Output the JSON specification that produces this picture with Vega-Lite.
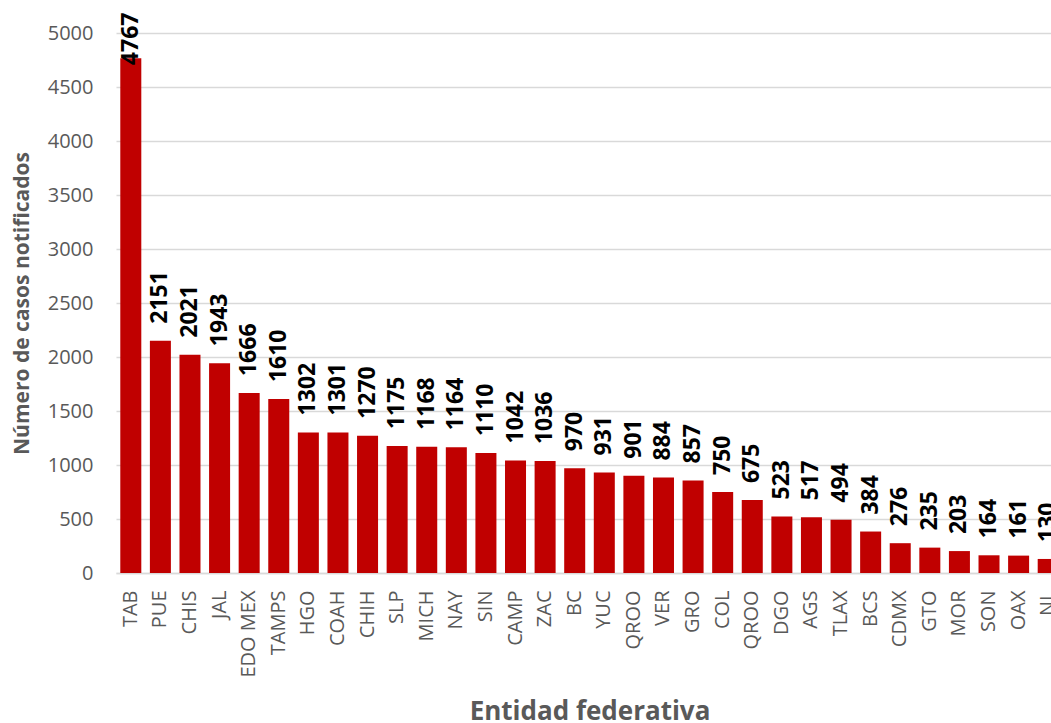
{
  "$schema": "https://vega.github.io/schema/vega-lite/v6.json",
  "width": 935,
  "height": 540,
  "autosize": {"type": "none"},
  "padding": {"left": 116, "top": 33, "right": 0, "bottom": 150},
  "background": "white",
  "config": {
    "view": {"stroke": null},
    "font": "Open Sans"
  },
  "data": {
    "values": [
      {"entidad": "TAB", "casos": 4767},
      {"entidad": "PUE", "casos": 2151},
      {"entidad": "CHIS", "casos": 2021},
      {"entidad": "JAL", "casos": 1943},
      {"entidad": "EDO MEX", "casos": 1666},
      {"entidad": "TAMPS", "casos": 1610},
      {"entidad": "HGO", "casos": 1302},
      {"entidad": "COAH", "casos": 1301},
      {"entidad": "CHIH", "casos": 1270},
      {"entidad": "SLP", "casos": 1175},
      {"entidad": "MICH", "casos": 1168},
      {"entidad": "NAY", "casos": 1164},
      {"entidad": "SIN", "casos": 1110},
      {"entidad": "CAMP", "casos": 1042},
      {"entidad": "ZAC", "casos": 1036},
      {"entidad": "BC", "casos": 970},
      {"entidad": "YUC", "casos": 931},
      {"entidad": "QROO", "casos": 901},
      {"entidad": "VER", "casos": 884},
      {"entidad": "GRO", "casos": 857},
      {"entidad": "COL", "casos": 750},
      {"entidad": "QROO\u200b", "casos": 675},
      {"entidad": "DGO", "casos": 523},
      {"entidad": "AGS", "casos": 517},
      {"entidad": "TLAX", "casos": 494},
      {"entidad": "BCS", "casos": 384},
      {"entidad": "CDMX", "casos": 276},
      {"entidad": "GTO", "casos": 235},
      {"entidad": "MOR", "casos": 203},
      {"entidad": "SON", "casos": 164},
      {"entidad": "OAX", "casos": 161},
      {"entidad": "NL", "casos": 130}
    ]
  },
  "encoding": {
    "x": {
      "field": "entidad",
      "type": "nominal",
      "sort": null,
      "scale": {"range": [0, 947], "paddingInner": 0.29, "paddingOuter": 0.145},
      "axis": {
        "title": "Entidad federativa",
        "titleFont": "Open Sans",
        "titleFontSize": 26,
        "titleFontWeight": "bold",
        "titleColor": "#595959",
        "titleBaseline": "alphabetic",
        "titleY": 146,
        "labelFont": "Open Sans",
        "labelFontSize": 20,
        "labelColor": "#595959",
        "labelAngle": -90,
        "labelAlign": "right",
        "labelBaseline": "middle",
        "labelPadding": 17,
        "ticks": false,
        "tickSize": 0,
        "domainColor": "#D9D9D9",
        "domainWidth": 1.5,
        "grid": false
      }
    },
    "y": {
      "field": "casos",
      "type": "quantitative",
      "scale": {"domain": [0, 5000], "nice": false},
      "axis": {
        "title": "Número de casos notificados",
        "titleFont": "Open Sans",
        "titleFontSize": 21,
        "titleFontWeight": "bold",
        "titleColor": "#595959",
        "titleAngle": -90,
        "titleBaseline": "middle",
        "titleX": -94,
        "titleY": 270,
        "values": [0, 500, 1000, 1500, 2000, 2500, 3000, 3500, 4000, 4500, 5000],
        "format": "d",
        "labelFont": "Open Sans",
        "labelFontSize": 20,
        "labelColor": "#595959",
        "labelPadding": 23,
        "ticks": false,
        "tickSize": 0,
        "domain": false,
        "grid": true,
        "gridColor": "#D9D9D9",
        "gridWidth": 1.5
      }
    }
  },
  "layer": [
    {
      "mark": {"type": "bar", "color": "#C00000"}
    },
    {
      "mark": {
        "type": "text",
        "angle": -90,
        "align": "left",
        "baseline": "middle",
        "font": "Open Sans",
        "fontSize": 23,
        "fontWeight": "bold",
        "color": "#000000",
        "dx": {"expr": "datum.casos > 4500 ? -7 : 17"}
      },
      "encoding": {
        "text": {"field": "casos", "type": "quantitative", "format": "d"}
      }
    }
  ]
}
